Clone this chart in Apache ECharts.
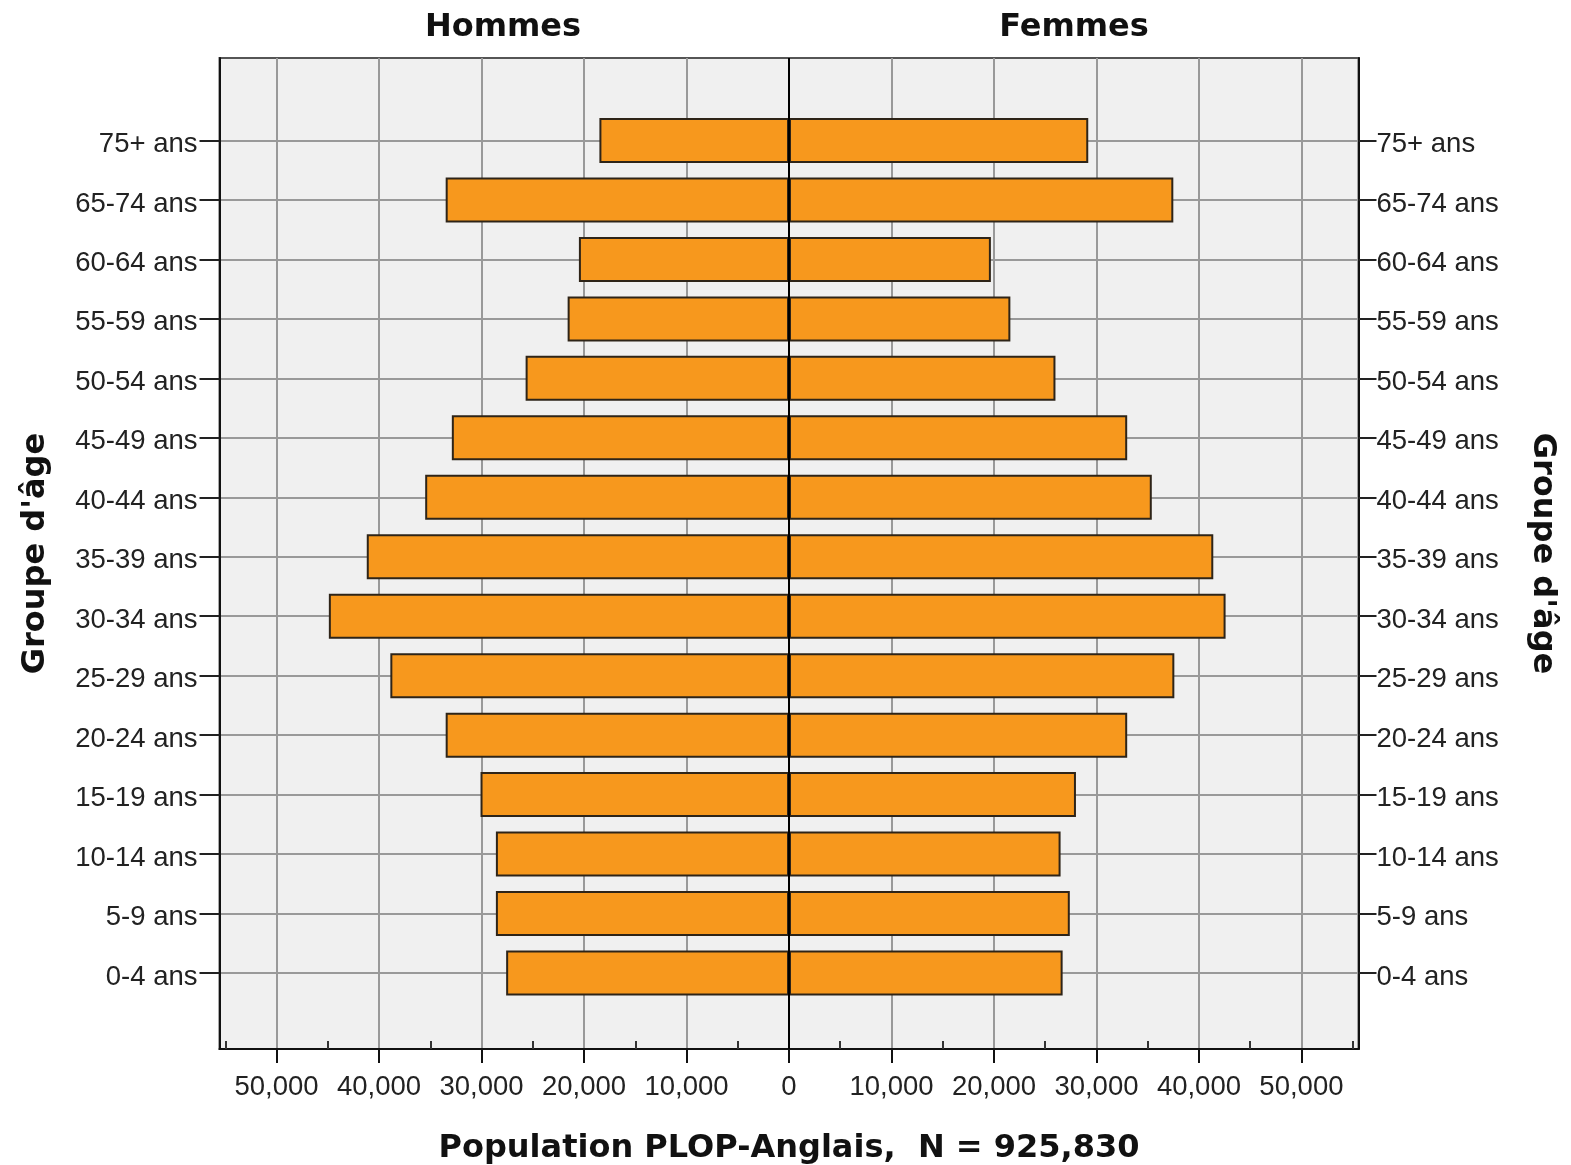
<!DOCTYPE html>
<html>
<head>
<meta charset="utf-8">
<script src="https://cdn.jsdelivr.net/npm/echarts@6/dist/echarts.min.js"></script>
<style>
html,body{margin:0;padding:0;background:#fff;}
#chart{width:1571px;height:1165px;}
</style>
</head>
<body>
<div id="chart"></div>
<script>
// ---- data ----
const categories = ['0-4 ans','5-9 ans','10-14 ans','15-19 ans','20-24 ans','25-29 ans','30-34 ans','35-39 ans','40-44 ans','45-49 ans','50-54 ans','55-59 ans','60-64 ans','65-74 ans','75+ ans'];
const hommes = [27600, 28600, 28600, 30100, 33500, 38900, 44900, 41200, 35500, 32900, 25700, 21600, 20500, 33500, 18500];
const femmes = [26700, 27400, 26500, 28000, 33000, 37600, 42600, 41400, 35400, 33000, 26000, 21600, 19700, 37500, 29200];
const majorTicks = [-50000, -40000, -30000, -20000, -10000, 0, 10000, 20000, 30000, 40000, 50000];
const minorTicks = [-55000, -45000, -35000, -25000, -15000, -5000, 5000, 15000, 25000, 35000, 45000, 55000];
const xMin = -55570, xMax = 55570;
const leftTitle = 'Hommes';
const rightTitle = 'Femmes';
const xTitle = 'Population PLOP-Anglais,  N = 925,830';
const yTitle = "Groupe d'âge";

const labelFont = { fontFamily: 'Liberation Sans', fontSize: 27.5, color: '#222' };
const titleFont = { fontFamily: 'DejaVu Sans', fontWeight: 'bold', fontSize: 32, color: '#111' };
const gridLine = { color: '#999', width: 2 };
const fmt = v => Math.abs(v).toLocaleString('en-US');

const chart = echarts.init(document.getElementById('chart'), null, { renderer: 'canvas' });
chart.setOption({
  animation: false,
  backgroundColor: '#fff',
  graphic: [
    { type: 'text', x: 503, y: 28, z: 10, style: { text: leftTitle, align: 'center', verticalAlign: 'middle', font: 'bold 32px "DejaVu Sans"', fill: '#111' } },
    { type: 'text', x: 1074, y: 28, z: 10, style: { text: rightTitle, align: 'center', verticalAlign: 'middle', font: 'bold 32px "DejaVu Sans"', fill: '#111' } }
  ],
  grid: [
    { left: 219.5, top: 58, width: 1139, height: 991, show: true, backgroundColor: '#f0f0f0', borderColor: '#555', borderWidth: 2, outerBoundsMode: 'none' },
    { left: 219.5, top: 140.5, width: 1139, height: 832.5, outerBoundsMode: 'none' }
  ],
  xAxis: [
    { gridIndex: 0, type: 'value', min: xMin, max: xMax, splitNumber: 11, position: 'bottom',
      name: xTitle, nameLocation: 'middle', nameGap: 84, nameTextStyle: titleFont,
      axisLine: { show: true, onZero: false, lineStyle: { color: '#111', width: 2 } },
      axisTick: { show: true, inside: false, length: 14, customValues: majorTicks, lineStyle: { color: '#111', width: 2 } },
      axisLabel: { show: true, customValues: majorTicks, formatter: fmt, margin: 24, ...labelFont },
      splitLine: { show: true, lineStyle: gridLine } },
    { gridIndex: 0, type: 'value', min: xMin, max: xMax, position: 'bottom',
      axisLine: { show: false, onZero: false },
      axisTick: { show: true, inside: true, length: 8, customValues: minorTicks, lineStyle: { color: '#333', width: 2 } },
      axisLabel: { show: false }, splitLine: { show: false } },
    { gridIndex: 1, type: 'value', min: xMin, max: xMax, show: false, splitLine: { show: false } }
  ],
  yAxis: [
    { gridIndex: 0, type: 'value', min: 0, max: 1, position: 'left',
      name: yTitle, nameLocation: 'middle', nameGap: 168, nameRotate: 90, nameTextStyle: titleFont,
      axisLine: { show: true, onZero: false, lineStyle: { color: '#111', width: 2 } },
      axisTick: { show: false }, axisLabel: { show: false }, splitLine: { show: false } },
    { gridIndex: 0, type: 'value', min: 0, max: 1, position: 'right',
      name: yTitle, nameLocation: 'middle', nameGap: 168, nameRotate: -90, nameTextStyle: titleFont,
      axisLine: { show: true, onZero: false, lineStyle: { color: '#111', width: 2 } },
      axisTick: { show: false }, axisLabel: { show: false }, splitLine: { show: false } },
    { gridIndex: 1, type: 'category', data: categories, boundaryGap: false, position: 'left',
      axisLine: { show: false, onZero: false },
      axisTick: { show: true, inside: false, length: 20, lineStyle: { color: '#222', width: 2 } },
      axisLabel: { show: true, margin: 22, verticalAlign: 'top', lineHeight: 8, ...labelFont },
      splitLine: { show: true, lineStyle: gridLine } },
    { gridIndex: 1, type: 'category', data: categories, boundaryGap: false, position: 'right',
      axisLine: { show: false, onZero: false },
      axisTick: { show: true, inside: false, length: 18, lineStyle: { color: '#222', width: 2 } },
      axisLabel: { show: true, margin: 18, verticalAlign: 'top', lineHeight: 8, ...labelFont },
      splitLine: { show: false } }
  ],
  series: [
    { name: leftTitle, type: 'bar', xAxisIndex: 2, yAxisIndex: 2, barWidth: 45, barGap: '-100%',
      data: hommes.map(v => -v),
      itemStyle: { color: '#F7981D', borderColor: '#2e2418', borderWidth: 2 } },
    { name: rightTitle, type: 'bar', xAxisIndex: 2, yAxisIndex: 2, barWidth: 45, barGap: '-100%',
      data: femmes,
      itemStyle: { color: '#F7981D', borderColor: '#2e2418', borderWidth: 2 } },
    { type: 'line', xAxisIndex: 0, yAxisIndex: 0, data: [], z: 10, silent: true,
      markLine: { symbol: 'none', silent: true, animation: false, label: { show: false },
        lineStyle: { color: '#000', width: 2, type: 'solid' }, data: [{ xAxis: 0 }] } }
  ]
});
</script>
</body>
</html>
